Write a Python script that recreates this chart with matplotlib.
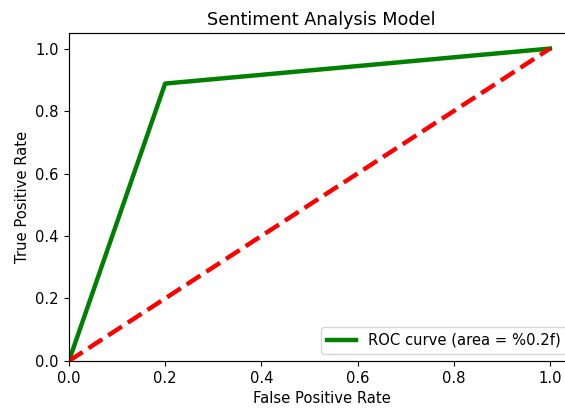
import matplotlib
matplotlib.use("Agg")
import matplotlib.pyplot as plt

# ROC points
fpr = [0.0, 0.2, 1.0]
tpr = [0.0, 0.888, 1.0]
diag_x = [0, 1]
diag_y = [0, 1]

scale = 1.06
plt.rcParams['font.size'] = 10 * scale
plt.rcParams['xtick.major.size'] = 3.5 * scale
plt.rcParams['ytick.major.size'] = 3.5 * scale
plt.rcParams['axes.linewidth'] = 0.8 * scale

fig = plt.figure(figsize=(5.65, 4.12), dpi=100)
ax = fig.add_axes([0.122, 0.124, 0.894, 0.796])

ax.plot(fpr, tpr, color='green', lw=3 * scale, label='ROC curve (area = %0.2f)')
ax.plot(diag_x, diag_y, color='red', lw=3 * scale, linestyle='--')
ax.set_xlim([0.0, 1.05])
ax.set_ylim([0.0, 1.05])
ax.set_xlabel('False Positive Rate')
ax.set_ylabel('True Positive Rate')
ax.set_title('Sentiment Analysis Model', fontsize=12 * scale)
ax.legend(loc='lower right')

fig.savefig('out.png', dpi=100)
